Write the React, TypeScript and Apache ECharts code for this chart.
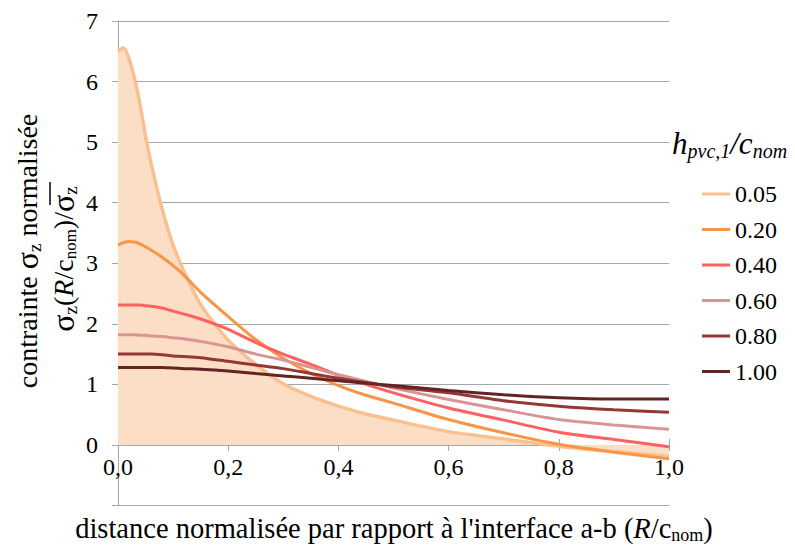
import React, { useEffect, useRef } from "react";
import * as echarts from "echarts";

const FONT = "Liberation Serif";

const xValues = [0, 0.01, 0.02, 0.03, 0.04, 0.05, 0.06, 0.08, 0.10, 0.12, 0.15, 0.20, 0.25, 0.30, 0.35, 0.40, 0.45, 0.50, 0.60, 0.70, 0.80, 0.90, 1.00];

const h005 = [6.50, 6.56, 6.38, 6.05, 5.62, 5.10, 4.65, 3.90, 3.30, 2.86, 2.32, 1.73, 1.33, 1.01, 0.80, 0.64, 0.51, 0.41, 0.22, 0.10, -0.02, -0.11, -0.19];
const h020 = [3.30, 3.34, 3.36, 3.35, 3.32, 3.27, 3.22, 3.10, 2.96, 2.80, 2.52, 2.12, 1.74, 1.43, 1.18, 0.98, 0.82, 0.69, 0.42, 0.20, 0.01, -0.12, -0.23];
const h040 = [2.31, 2.31, 2.31, 2.31, 2.31, 2.30, 2.29, 2.26, 2.21, 2.16, 2.08, 1.91, 1.69, 1.50, 1.33, 1.15, 1.00, 0.86, 0.61, 0.41, 0.21, 0.09, -0.03];
const h060 = [1.82, 1.82, 1.82, 1.82, 1.81, 1.81, 1.80, 1.79, 1.77, 1.75, 1.71, 1.62, 1.50, 1.40, 1.28, 1.16, 1.05, 0.94, 0.75, 0.58, 0.42, 0.33, 0.26];
const h080 = [1.50, 1.50, 1.50, 1.50, 1.50, 1.50, 1.50, 1.49, 1.47, 1.46, 1.44, 1.38, 1.32, 1.26, 1.18, 1.10, 1.03, 0.96, 0.86, 0.73, 0.64, 0.58, 0.54];
const h100 = [1.28, 1.28, 1.28, 1.28, 1.28, 1.28, 1.28, 1.28, 1.27, 1.26, 1.25, 1.22, 1.18, 1.14, 1.10, 1.06, 1.02, 0.98, 0.90, 0.83, 0.78, 0.76, 0.76];

const seriesNames = ["0.05", "0.20", "0.40", "0.60", "0.80", "1.00"];
const seriesValues = [h005, h020, h040, h060, h080, h100];
const seriesColors = ["#FAC090", "#F79646", "#FF6161", "#D99594", "#953735", "#632523"];
const areaColor = "#FCDEC6";

const xTickLabels = ["0,0", "0,2", "0,4", "0,6", "0,8", "1,0"];
const yTickLabels = ["", "0", "1", "2", "3", "4", "5", "6", "7"];

const GRID = "#A6A6A6";
const GRID_TOP = 21;
const GRID_BOTTOM = 42.5;
const Y_MIN = -1;
const Y_MAX = 7;

export default function App() {
  const ref = useRef<HTMLDivElement>(null);
  useEffect(() => {
    if (!ref.current) return;
    const chart = echarts.init(ref.current, null, { renderer: "svg" });
    const plotH = 548 - GRID_TOP - GRID_BOTTOM;
    const zeroOffset = -plotH * (0 - Y_MIN) / (Y_MAX - Y_MIN);
    const series = seriesNames.map((name, k) => ({
      name,
      type: "line",
      data: xValues.map((x, i) => [x, seriesValues[k][i]]),
      symbol: "none",
      showSymbol: false,
      smooth: 0.25,
      lineStyle: { color: seriesColors[k], width: k === 0 ? 3.5 : 3 },
      itemStyle: { color: seriesColors[k] },
      areaStyle: k === 0 ? { color: areaColor, opacity: 1 } : undefined,
      emphasis: { disabled: true },
      silent: true,
      z: 2,
    }));
    const sub = (size: number, pad: number, italic = false) => ({
      fontSize: size,
      fontFamily: FONT,
      fontStyle: italic ? "italic" : "normal",
      fill: "#000",
      padding: [pad, 0, 0, 0],
    });
    chart.setOption({
      animation: false,
      grid: { left: 118, right: 126, top: GRID_TOP, bottom: GRID_BOTTOM, containLabel: false },
      xAxis: [
        {
          type: "value",
          min: 0,
          max: 1,
          interval: 0.2,
          offset: zeroOffset,
          axisLine: { show: true, onZero: false, lineStyle: { color: GRID, width: 1 } },
          axisTick: { show: true, length: 6, lineStyle: { color: GRID } },
          splitLine: { show: false },
          axisLabel: {
            formatter: (v: number) => xTickLabels[Math.round(v / 0.2)] ?? "",
            fontSize: 24,
            fontFamily: FONT,
            color: "#000",
            margin: 10,
          },
        },
        {
          type: "value",
          position: "bottom",
          min: 0,
          max: 1,
          interval: 0.2,
          offset: zeroOffset,
          axisLine: { show: false, onZero: false },
          axisTick: { show: true, inside: true, length: 6, lineStyle: { color: GRID } },
          splitLine: { show: false },
          axisLabel: { show: false },
        },
      ],
      yAxis: {
        type: "value",
        min: Y_MIN,
        max: Y_MAX,
        interval: 1,
        axisLine: { show: true, onZero: false, lineStyle: { color: GRID, width: 1 } },
        axisTick: { show: true, length: 6, lineStyle: { color: GRID } },
        splitLine: { show: true, showMinLine: true, showMaxLine: true, lineStyle: { color: GRID, width: 1 } },
        axisLabel: {
          formatter: (v: number) => yTickLabels[Math.round(v) + 1] ?? "",
          fontSize: 24,
          fontFamily: FONT,
          color: "#000",
          margin: 20,
        },
      },
      legend: {
        data: seriesNames,
        orient: "vertical",
        left: 697,
        top: 177,
        icon: "rect",
        itemWidth: 28,
        itemHeight: 3,
        itemGap: 11.5,
        selectedMode: false,
        textStyle: { fontSize: 24, fontFamily: FONT, color: "#000", lineHeight: 24 },
      },
      series,
      graphic: [
        {
          type: "text",
          x: 394,
          y: 528,
          silent: true,
          style: {
            text: "distance normalisée par rapport à l'interface a-b ({i|R}/c{s|nom})",
            fontSize: 28.5,
            fontFamily: FONT,
            fill: "#000",
            align: "center",
            verticalAlign: "middle",
            rich: {
              i: { fontSize: 28.5, fontFamily: FONT, fontStyle: "italic", fill: "#000" },
              s: sub(18, 14),
            },
          },
        },
        {
          type: "text",
          x: 27,
          y: 251,
          rotation: Math.PI / 2,
          silent: true,
          style: {
            text: "contrainte {g|σ}{s|z} normalisée",
            fontSize: 28,
            fontFamily: FONT,
            fill: "#000",
            align: "center",
            verticalAlign: "middle",
            rich: {
              g: { fontSize: 32, fontFamily: FONT, fill: "#000" },
              s: sub(19, 14),
            },
          },
        },
        {
          type: "text",
          x: 63,
          y: 259,
          rotation: Math.PI / 2,
          silent: true,
          style: {
            text: "{g|σ}{s|z}({i|R}/c{t|nom})/{g|σ}{s|z}",
            fontSize: 28,
            fontFamily: FONT,
            fill: "#000",
            align: "center",
            verticalAlign: "middle",
            rich: {
              g: { fontSize: 32, fontFamily: FONT, fill: "#000" },
              i: { fontSize: 28, fontFamily: FONT, fontStyle: "italic", fill: "#000" },
              s: sub(19, 14),
              t: sub(17, 14),
            },
          },
        },
        {
          type: "line",
          silent: true,
          shape: { x1: 50, y1: 182, x2: 50, y2: 205 },
          style: { stroke: "#000", lineWidth: 1.5 },
        },
        {
          type: "text",
          x: 672,
          y: 143,
          silent: true,
          style: {
            text: "{h|h}{s|pvc,1}{h|/c}{s|nom}",
            align: "left",
            verticalAlign: "middle",
            rich: {
              h: { fontSize: 31, fontFamily: FONT, fontStyle: "italic", fill: "#000" },
              s: sub(20, 15, true),
            },
          },
        },
      ],
    });
    return () => chart.dispose();
  }, []);
  return <div ref={ref} style={{ width: 795, height: 548, position: "absolute", left: 0, top: 0 }} />;
}
